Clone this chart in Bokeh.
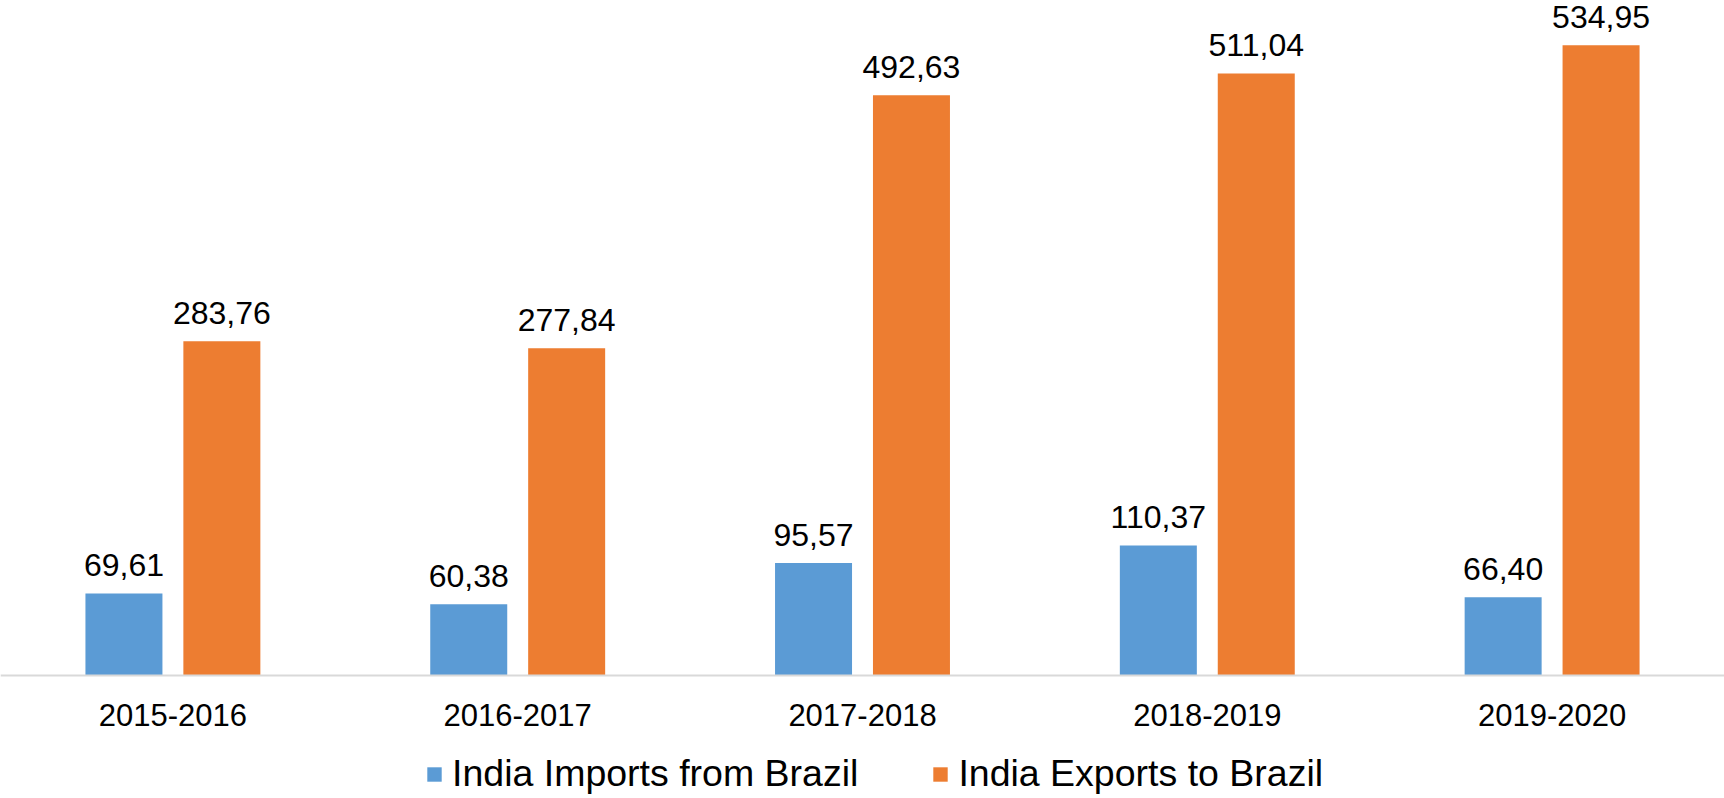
import numpy as np
from bokeh.plotting import figure
from bokeh.models import ColumnDataSource, Range1d, Legend, LegendItem, Span
from bokeh.transform import dodge
from bokeh.core.properties import value
from bokeh.embed import file_html
from bokeh.resources import INLINE

categories = ["2015-2016", "2016-2017", "2017-2018", "2018-2019", "2019-2020"]
imports_vals = [69.61, 60.38, 95.57, 110.37, 66.40]
exports_vals = [283.76, 277.84, 492.63, 511.04, 534.95]
series_names = ["India Imports from Brazil", "India Exports to Brazil"]

def fmt(v):
    return f"{v:.2f}".replace(".", ",")

xpos = [i + 0.5 for i in range(len(categories))]
src = ColumnDataSource(dict(
    x=xpos,
    cat=categories,
    base=[0] * len(categories),
    imp=imports_vals,
    exp=exports_vals,
    imp_lbl=[fmt(v) for v in imports_vals],
    exp_lbl=[fmt(v) for v in exports_vals],
))

FONT = "Liberation Sans"
PXU = 1.178  # pixels per unit
H, BASE = 798, 675

p = figure(frame_width=1724, frame_height=H, output_backend="svg", toolbar_location=None,
           x_range=Range1d(0.0, 5.0),
           y_range=Range1d(-(H - BASE) / PXU, BASE / PXU),
           x_axis_location=None, y_axis_location=None,
           min_border=0, outline_line_color=None)
p.grid.visible = False

BLUE = "#5B9BD5"
ORANGE = "#ED7D31"
w = 0.2233
off = 0.142

r1 = p.vbar(x=dodge("x", -off), top="imp", width=w, bottom=0, source=src,
            fill_color=BLUE, line_color=None)
r2 = p.vbar(x=dodge("x", off), top="exp", width=w, bottom=0, source=src,
            fill_color=ORANGE, line_color=None)

p.add_layout(Span(location=0, dimension="width", line_color="#D9D9D9", line_width=2))

for col, lbl, o in (("imp", "imp_lbl", -off), ("exp", "exp_lbl", off)):
    p.text(x=dodge("x", o), y=col, text=lbl, source=src, text_align="center",
           text_baseline="alphabetic", y_offset=-28, text_font=value(FONT),
           text_font_size="32px", text_color="black")

# category labels under the baseline
p.text(x="x", y="base", text="cat", source=src, text_align="center",
       text_baseline="alphabetic", y_offset=39, text_font=value(FONT),
       text_font_size="31px", text_color="black")

legend = Legend(items=[LegendItem(label=series_names[0], renderers=[r1]),
                       LegendItem(label=series_names[1], renderers=[r2])],
                orientation="horizontal", location=(425, 3),
                label_text_font=FONT, label_text_font_size="37.5px",
                label_text_color="black", glyph_width=18, glyph_height=18,
                label_standoff=9, spacing=73, padding=0, margin=0,
                border_line_color=None, background_fill_alpha=0)
p.add_layout(legend, "center")

open("out.html", "w").write(file_html(p, INLINE))
